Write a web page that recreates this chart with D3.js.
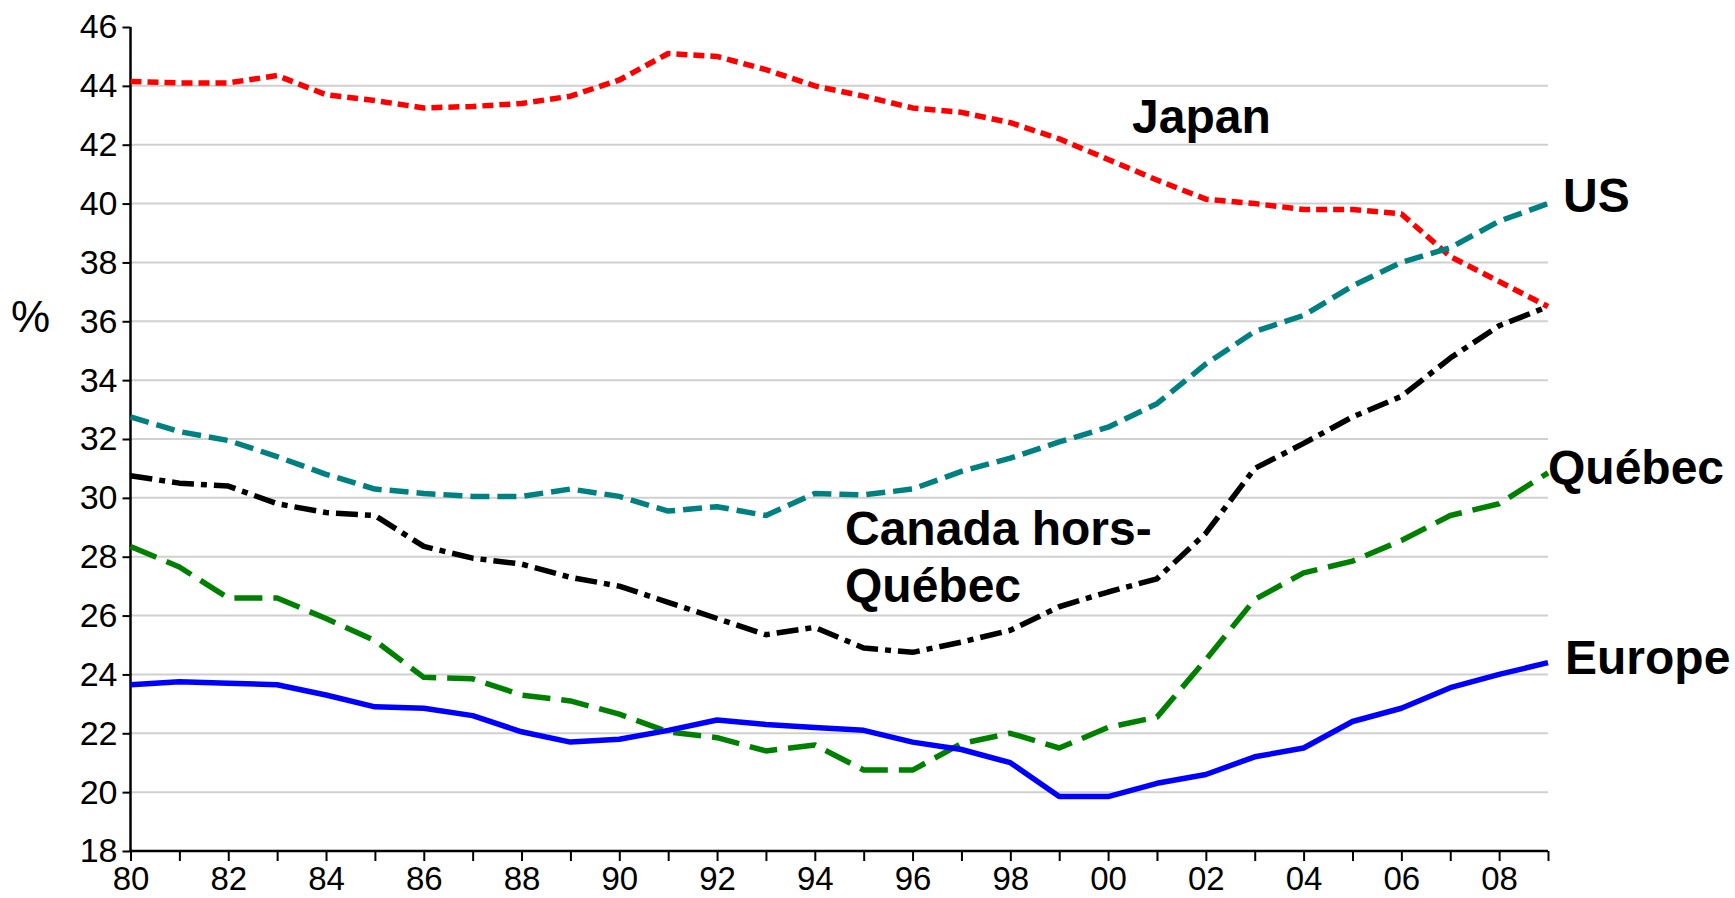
<!DOCTYPE html>
<html>
<head>
<meta charset="utf-8">
<script src="https://cdn.jsdelivr.net/npm/d3@7"></script>
<style>
  body { margin: 0; background: #fff; }
  svg { display: block; font-family: Arial, "Liberation Sans", sans-serif; }
</style>
</head>
<body>
<svg id="stage" width="1735" height="898"></svg>
<script>
var years = d3.range(1980, 2010);

var japan = [44.15, 44.1, 44.1, 44.35, 43.7, 43.5, 43.25, 43.3, 43.4, 43.65,
  44.2, 45.1, 45.0, 44.55, 44.0, 43.65, 43.25, 43.1, 42.75, 42.2,
  41.5, 40.8, 40.15, 40.0, 39.8, 39.8, 39.65, 38.2, 37.35, 36.5];

var us = [32.75, 32.25, 31.95, 31.4, 30.8, 30.3, 30.15, 30.05, 30.05, 30.3,
  30.05, 29.55, 29.7, 29.4, 30.15, 30.1, 30.3, 30.9, 31.35, 31.9,
  32.4, 33.2, 34.55, 35.65, 36.2, 37.2, 38.0, 38.5, 39.4, 40.0];

var canadaHQ = [30.75, 30.5, 30.4, 29.8, 29.5, 29.4, 28.35, 27.95, 27.75, 27.3,
  27.0, 26.45, 25.9, 25.35, 25.6, 24.9, 24.75, 25.1, 25.5, 26.3,
  26.8, 27.25, 28.8, 31.0, 31.85, 32.75, 33.45, 34.75, 35.85, 36.5];

var quebec = [28.35, 27.65, 26.6, 26.6, 25.9, 25.15, 23.9, 23.85, 23.3, 23.1,
  22.65, 22.05, 21.85, 21.4, 21.6, 20.75, 20.75, 21.65, 22.0, 21.5,
  22.2, 22.55, 24.5, 26.55, 27.45, 27.85, 28.55, 29.4, 29.8, 30.85];

var europe = [23.65, 23.75, 23.7, 23.65, 23.3, 22.9, 22.85, 22.6, 22.05, 21.7,
  21.8, 22.1, 22.45, 22.3, 22.2, 22.1, 21.7, 21.45, 21.0, 19.85,
  19.85, 20.3, 20.6, 21.2, 21.5, 22.4, 22.85, 23.55, 24.0, 24.4];

var yTicks = d3.range(18, 47, 2);
var xLabelYears = d3.range(1980, 2010, 2);

var series = [
  { name: 'Japan', values: japan, color: '#ff0000', dash: '11,6' },
  { name: 'US', values: us, color: '#008080', dash: '19,8' },
  { name: 'Canada hors-Québec', values: canadaHQ, color: '#000000', dash: '22,7,6,7' },
  { name: 'Québec', values: quebec, color: '#008000', dash: '28,11' },
  { name: 'Europe', values: europe, color: '#0000ff', dash: null }
];

var labels = [
  { lines: ['Japan'], x: 1132, y: 133 },
  { lines: ['US'], x: 1563, y: 212 },
  { lines: ['Canada hors-', 'Québec'], x: 845, y: 545 },
  { lines: ['Québec'], x: 1548, y: 484 },
  { lines: ['Europe'], x: 1565, y: 674 }
];

var svg = d3.select('#stage'),
    LEFT = 130.5,
    RIGHT = 1548,
    TOP = 27,
    BOTTOM = 851;

var x = d3.scaleLinear().domain([1980, 2009]).range([LEFT, RIGHT]);
var y = d3.scaleLinear().domain([18, 46]).range([BOTTOM, TOP]);

// grid
svg.append('g')
  .selectAll('line')
  .data(yTicks.filter(function (d) { return d > 18 && d < 46; }))
  .enter().append('line')
    .attr('x1', LEFT)
    .attr('x2', RIGHT)
    .attr('y1', function (d) { return y(d); })
    .attr('y2', function (d) { return y(d); })
    .attr('stroke', '#d0d0d0')
    .attr('stroke-width', 2);

// y axis
var yAxis = svg.append('g')
  .attr('transform', 'translate(' + LEFT + ',0)')
  .call(d3.axisLeft(y).tickValues(yTicks).tickSize(8).tickPadding(5).tickFormat(d3.format('d')));

// x axis
var xAxis = svg.append('g')
  .attr('transform', 'translate(0,' + BOTTOM + ')')
  .call(d3.axisBottom(x).tickValues(years).tickSize(10).tickPadding(6)
    .tickFormat(function (d) {
      return xLabelYears.indexOf(d) >= 0 ? String(d).slice(2) : '';
    }));

[yAxis, xAxis].forEach(function (ax) {
  ax.select('.domain').attr('stroke', '#000').attr('stroke-width', 2.5);
  ax.selectAll('.tick line').attr('stroke', '#000').attr('stroke-width', 2);
  ax.selectAll('.tick text')
    .attr('fill', '#000')
    .style('font-family', 'Arial, "Liberation Sans", sans-serif');
});
yAxis.selectAll('.tick text').style('font-size', '34px');
xAxis.selectAll('.tick text').style('font-size', '33px');
xAxis.select('.domain').attr('d', 'M' + LEFT + ',0H' + RIGHT);
yAxis.select('.domain').attr('d', 'M0,' + TOP + 'V' + BOTTOM);

// lines
var line = d3.line()
  .x(function (d, i) { return x(years[i]); })
  .y(function (d) { return y(d); });

svg.append('g')
  .selectAll('path')
  .data(series)
  .enter().append('path')
    .attr('d', function (d) { return line(d.values); })
    .attr('fill', 'none')
    .attr('stroke', function (d) { return d.color; })
    .attr('stroke-width', 5.5)
    .attr('stroke-linejoin', 'round')
    .attr('stroke-dasharray', function (d) { return d.dash; });

// series labels
labels.forEach(function (l) {
  var t = svg.append('text')
    .attr('x', l.x)
    .attr('y', l.y)
    .attr('fill', '#000')
    .style('font-size', '48px')
    .style('font-weight', 'bold');
  l.lines.forEach(function (s, i) {
    t.append('tspan')
      .attr('x', l.x)
      .attr('dy', i === 0 ? 0 : 57)
      .text(s);
  });
});

svg.append('text')
  .attr('x', 11)
  .attr('y', 332)
  .attr('fill', '#000')
  .style('font-size', '44px')
  .text('%');
</script>
</body>
</html>
